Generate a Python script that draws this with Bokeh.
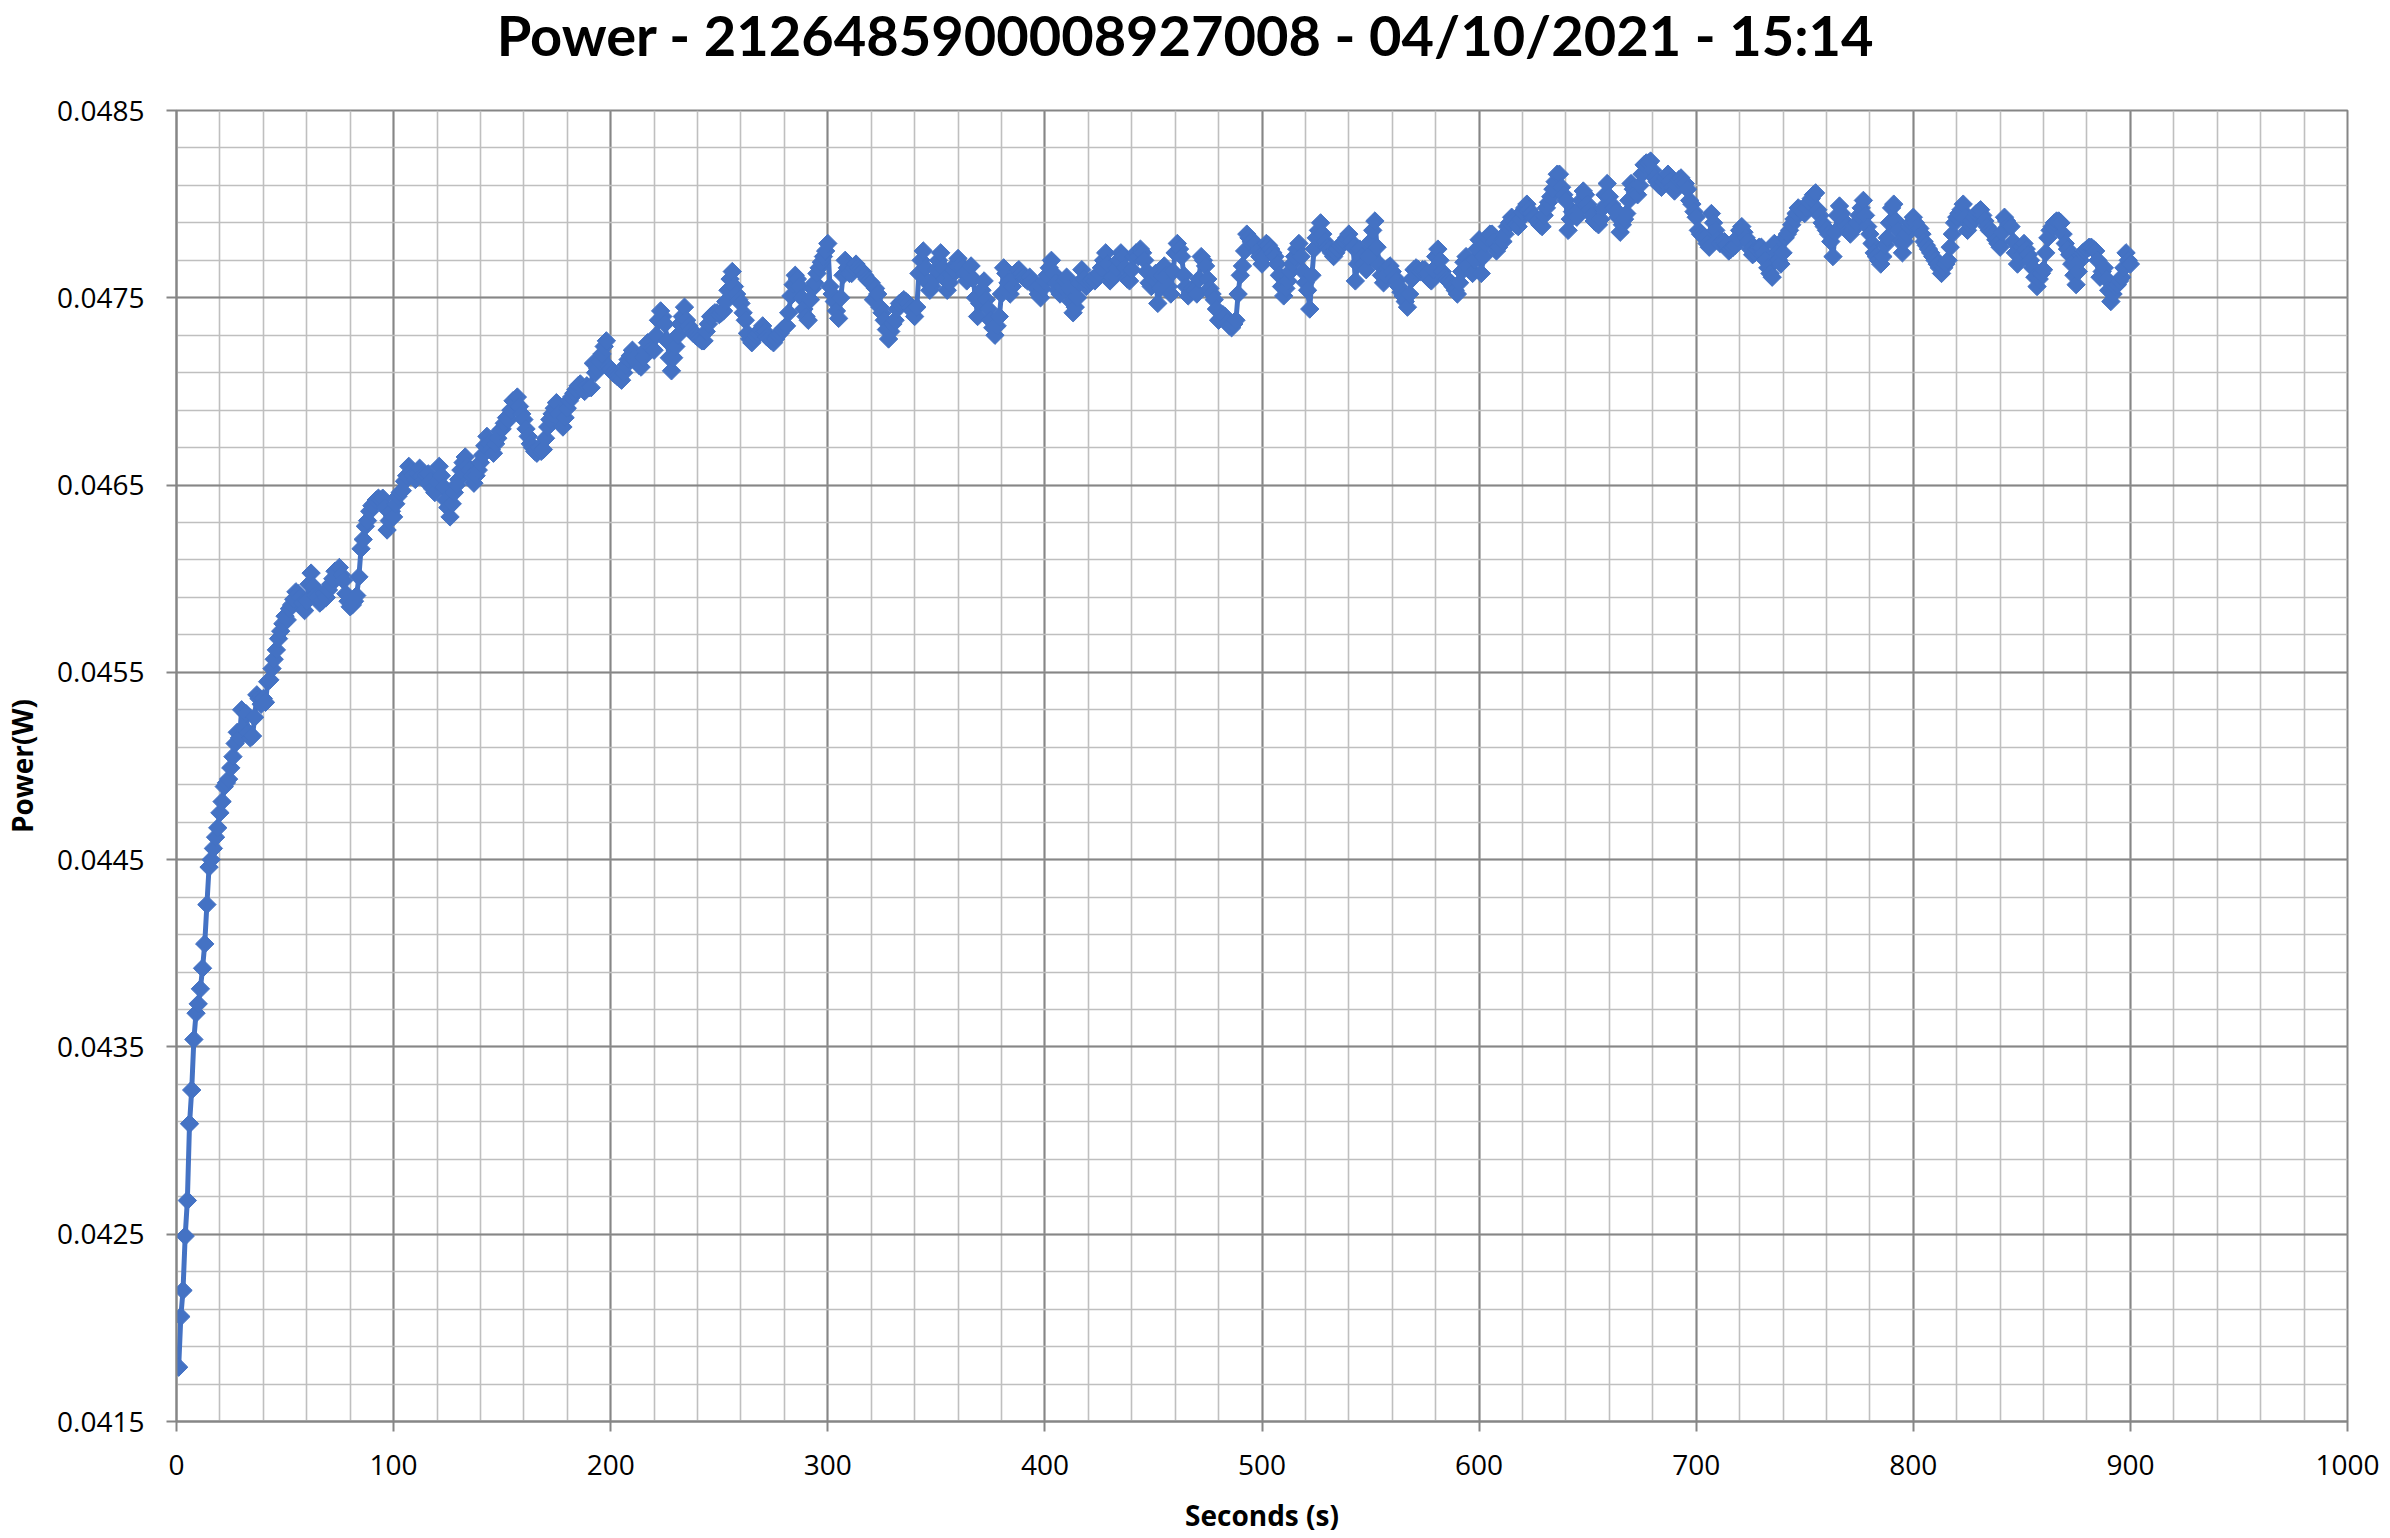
import math
from bokeh.plotting import figure
from bokeh.layouts import column
from bokeh.core.properties import value
from bokeh.models import FixedTicker, PrintfTickFormatter, Range1d, ColumnDataSource
from bokeh.embed import file_html
from bokeh.resources import INLINE

# ---------------- data ----------------
title_text = "Power - 2126485900008927008  - 04/10/2021 - 15:14"
x_label = "Seconds (s)"
y_label = "Power(W)"

x_ticks = [0, 100, 200, 300, 400, 500, 600, 700, 800, 900, 1000]
x_minor = list(range(0, 1001, 20))
y_ticks = [0.0415, 0.0425, 0.0435, 0.0445, 0.0455, 0.0465, 0.0475, 0.0485]
y_minor = [round(0.0415 + i * 0.0002, 4) for i in range(36)]

# power readings in mW, one per second (1 .. 900 s)
power_mw = [
    41.79, 42.06, 42.20, 42.49, 42.68, 43.09, 43.27, 43.54, 43.68, 43.73,
    43.81, 43.92, 44.05, 44.26, 44.46, 44.50, 44.56, 44.62, 44.67, 44.75,
    44.81, 44.89, 44.91, 44.93, 44.99, 45.05, 45.12, 45.18, 45.15, 45.30,
    45.20, 45.28, 45.18, 45.15, 45.16, 45.26, 45.38, 45.36, 45.33, 45.36,
    45.34, 45.45, 45.46, 45.52, 45.57, 45.62, 45.68, 45.72, 45.76, 45.80,
    45.78, 45.84, 45.86, 45.89, 45.93, 45.92, 45.90, 45.87, 45.83, 45.88,
    45.97, 46.03, 45.96, 45.91, 45.90, 45.87, 45.88, 45.92, 45.90, 45.94,
    45.97, 46.00, 46.04, 46.02, 46.06, 46.02, 45.99, 45.92, 45.88, 45.85,
    45.86, 45.88, 45.91, 46.01, 46.16, 46.21, 46.28, 46.31, 46.36, 46.39,
    46.40, 46.42, 46.43, 46.42, 46.43, 46.38, 46.26, 46.31, 46.36, 46.33,
    46.40, 46.44, 46.46, 46.47, 46.52, 46.55, 46.60, 46.57, 46.55, 46.53,
    46.56, 46.59, 46.55, 46.53, 46.55, 46.56, 46.52, 46.48, 46.46, 46.52,
    46.60, 46.55, 46.49, 46.42, 46.38, 46.33, 46.40, 46.46, 46.50, 46.53,
    46.58, 46.62, 46.65, 46.60, 46.58, 46.55, 46.51, 46.55, 46.58, 46.62,
    46.66, 46.71, 46.76, 46.72, 46.69, 46.67, 46.72, 46.75, 46.79, 46.80,
    46.83, 46.86, 46.85, 46.90, 46.95, 46.94, 46.97, 46.92, 46.88, 46.85,
    46.80, 46.76, 46.72, 46.70, 46.68, 46.67, 46.70, 46.68, 46.69, 46.75,
    46.81, 46.85, 46.88, 46.91, 46.94, 46.88, 46.84, 46.81, 46.86, 46.91,
    46.95, 46.97, 46.99, 47.01, 47.03, 47.04, 47.02, 47.00, 47.03, 47.02,
    47.02, 47.15, 47.10, 47.12, 47.16, 47.20, 47.24, 47.27, 47.13, 47.12,
    47.10, 47.09, 47.08, 47.07, 47.06, 47.10, 47.14, 47.17, 47.19, 47.22,
    47.18, 47.16, 47.14, 47.13, 47.18, 47.22, 47.26, 47.24, 47.23, 47.22,
    47.30, 47.38, 47.43, 47.40, 47.36, 47.27, 47.18, 47.11, 47.18, 47.24,
    47.30, 47.36, 47.40, 47.45, 47.38, 47.35, 47.33, 47.31, 47.30, 47.29,
    47.28, 47.27, 47.27, 47.32, 47.36, 47.40, 47.41, 47.42, 47.42, 47.41,
    47.42, 47.43, 47.48, 47.54, 47.60, 47.64, 47.56, 47.52, 47.49, 47.47,
    47.42, 47.38, 47.31, 47.28, 47.26, 47.28, 47.30, 47.31, 47.33, 47.35,
    47.32, 47.29, 47.28, 47.27, 47.26, 47.28, 47.30, 47.31, 47.33, 47.34,
    47.35, 47.42, 47.51, 47.57, 47.62, 47.60, 47.56, 47.50, 47.44, 47.40,
    47.38, 47.49, 47.55, 47.58, 47.63, 47.66, 47.69, 47.72, 47.75, 47.79,
    47.56, 47.52, 47.48, 47.43, 47.39, 47.50, 47.62, 47.70, 47.66, 47.63,
    47.63, 47.66, 47.68, 47.66, 47.65, 47.64, 47.62, 47.60, 47.59, 47.58,
    47.49, 47.55, 47.52, 47.45, 47.42, 47.38, 47.33, 47.28, 47.32, 47.36,
    47.38, 47.44, 47.47, 47.48, 47.49, 47.48, 47.47, 47.45, 47.43, 47.40,
    47.45, 47.63, 47.70, 47.75, 47.66, 47.58, 47.54, 47.56, 47.60, 47.65,
    47.70, 47.74, 47.66, 47.60, 47.54, 47.58, 47.62, 47.65, 47.68, 47.71,
    47.68, 47.66, 47.63, 47.59, 47.62, 47.67, 47.60, 47.50, 47.40, 47.47,
    47.54, 47.59, 47.49, 47.44, 47.38, 47.34, 47.30, 47.35, 47.40, 47.52,
    47.66, 47.63, 47.58, 47.52, 47.56, 47.61, 47.64, 47.65, 47.63, 47.61,
    47.60, 47.59, 47.61, 47.59, 47.57, 47.55, 47.52, 47.50, 47.55, 47.59,
    47.62, 47.66, 47.70, 47.63, 47.58, 47.54, 47.52, 47.56, 47.59, 47.61,
    47.55, 47.48, 47.42, 47.45, 47.50, 47.58, 47.65, 47.60, 47.56, 47.58,
    47.59, 47.60, 47.59, 47.61, 47.63, 47.66, 47.70, 47.74, 47.68, 47.59,
    47.61, 47.62, 47.66, 47.70, 47.74, 47.72, 47.66, 47.60, 47.59, 47.65,
    47.72, 47.74, 47.72, 47.76, 47.74, 47.70, 47.64, 47.58, 47.56, 47.60,
    47.63, 47.47, 47.55, 47.62, 47.67, 47.62, 47.56, 47.52, 47.64, 47.74,
    47.79, 47.76, 47.72, 47.62, 47.56, 47.51, 47.53, 47.55, 47.54, 47.52,
    47.60, 47.72, 47.70, 47.67, 47.60, 47.55, 47.52, 47.49, 47.44, 47.38,
    47.39, 47.41, 47.40, 47.37, 47.35, 47.34, 47.36, 47.38, 47.52, 47.62,
    47.67, 47.75, 47.84, 47.82, 47.80, 47.78, 47.79, 47.75, 47.72, 47.68,
    47.72, 47.79, 47.78, 47.76, 47.74, 47.72, 47.68, 47.62, 47.56, 47.51,
    47.55, 47.59, 47.64, 47.68, 47.72, 47.76, 47.79, 47.72, 47.64, 47.58,
    47.54, 47.44, 47.62, 47.76, 47.82, 47.86, 47.90, 47.84, 47.80, 47.77,
    47.76, 47.74, 47.72, 47.74, 47.76, 47.78, 47.79, 47.80, 47.82, 47.84,
    47.80, 47.77, 47.59, 47.68, 47.76, 47.72, 47.68, 47.65, 47.72, 47.80,
    47.86, 47.91, 47.77, 47.68, 47.62, 47.58, 47.62, 47.66, 47.67, 47.64,
    47.61, 47.59, 47.56, 47.53, 47.51, 47.48, 47.45, 47.52, 47.60, 47.65,
    47.66, 47.65, 47.64, 47.65, 47.65, 47.63, 47.60, 47.59, 47.65, 47.72,
    47.76, 47.70, 47.64, 47.61, 47.60, 47.59, 47.58, 47.56, 47.54, 47.52,
    47.58, 47.64, 47.69, 47.72, 47.68, 47.65, 47.63, 47.70, 47.76, 47.81,
    47.63, 47.72, 47.79, 47.82, 47.84, 47.84, 47.80, 47.75, 47.77, 47.80,
    47.80, 47.84, 47.88, 47.90, 47.93, 47.91, 47.89, 47.88, 47.92, 47.96,
    47.98, 48.00, 47.97, 47.95, 47.93, 47.93, 47.91, 47.89, 47.88, 47.94,
    47.98, 48.01, 48.04, 48.08, 48.12, 48.16, 48.16, 48.09, 48.05, 48.02,
    47.86, 47.92, 47.96, 47.95, 47.93, 47.97, 48.02, 48.07, 48.05, 48.00,
    47.97, 47.94, 47.91, 47.90, 47.89, 47.92, 47.98, 48.05, 48.11, 48.04,
    48.00, 47.98, 47.96, 47.93, 47.85, 47.89, 47.92, 47.95, 48.02, 48.11,
    48.08, 48.06, 48.05, 48.10, 48.16, 48.21, 48.22, 48.22, 48.23, 48.18,
    48.14, 48.12, 48.10, 48.09, 48.12, 48.14, 48.16, 48.12, 48.09, 48.07,
    48.10, 48.13, 48.14, 48.12, 48.11, 48.08, 48.02, 48.00, 47.96, 47.93,
    47.86, 47.84, 47.83, 47.82, 47.79, 47.77, 47.95, 47.90, 47.86, 47.81,
    47.79, 47.80, 47.80, 47.78, 47.75, 47.76, 47.77, 47.78, 47.82, 47.86,
    47.88, 47.85, 47.82, 47.80, 47.76, 47.73, 47.74, 47.76, 47.77, 47.77,
    47.74, 47.70, 47.66, 47.63, 47.61, 47.79, 47.74, 47.70, 47.68, 47.74,
    47.82, 47.84, 47.86, 47.89, 47.92, 47.95, 47.98, 47.97, 47.96, 47.95,
    47.98, 48.01, 48.03, 48.05, 48.06, 47.97, 47.94, 47.90, 47.88, 47.86,
    47.84, 47.80, 47.72, 47.85, 47.94, 47.99, 47.95, 47.91, 47.88, 47.86,
    47.84, 47.86, 47.88, 47.90, 47.94, 47.98, 48.02, 47.94, 47.88, 47.84,
    47.79, 47.74, 47.72, 47.70, 47.68, 47.72, 47.78, 47.82, 47.90, 47.98,
    48.00, 47.91, 47.86, 47.80, 47.74, 47.80, 47.84, 47.88, 47.90, 47.93,
    47.90, 47.88, 47.87, 47.84, 47.80, 47.78, 47.76, 47.74, 47.72, 47.70,
    47.68, 47.66, 47.63, 47.66, 47.68, 47.70, 47.77, 47.84, 47.90, 47.93,
    47.95, 47.97, 48.00, 47.93, 47.86, 47.89, 47.91, 47.93, 47.95, 47.96,
    47.97, 47.94, 47.91, 47.88, 47.86, 47.85, 47.84, 47.81, 47.79, 47.77,
    47.85, 47.93, 47.91, 47.89, 47.88, 47.80, 47.74, 47.68, 47.72, 47.77,
    47.79, 47.76, 47.73, 47.70, 47.66, 47.61, 47.56, 47.60, 47.63, 47.65,
    47.74, 47.82, 47.86, 47.88, 47.90, 47.91, 47.91, 47.90, 47.84, 47.79,
    47.76, 47.73, 47.68, 47.62, 47.57, 47.64, 47.70, 47.74, 47.75, 47.76,
    47.77, 47.77, 47.76, 47.75, 47.70, 47.61, 47.64, 47.66, 47.60, 47.54,
    47.48, 47.52, 47.56, 47.57, 47.59, 47.61, 47.66, 47.74, 47.70, 47.68,
]
seconds = list(range(1, len(power_mw) + 1))
power_w = [v / 1000.0 for v in power_mw]

# ---------------- layout / styling ----------------
BLUE = "#4472C4"
MAJOR = "#868686"
MINOR = "#BFBFBF"
FONT = "Open Sans"
TITLE_FONT = "Lato"
PAGE_W = 2390
BORDER_L, BORDER_R = 176, 43
HEAD_H = 80           # strip holding the chart title
MAIN_H = 1458

# --- title strip (its own small svg figure; frame aligned with the chart frame) ---
head = figure(
    width=PAGE_W, height=HEAD_H, output_backend="svg", toolbar_location=None,
    x_range=Range1d(BORDER_L, PAGE_W - BORDER_R), y_range=Range1d(0, HEAD_H),
    x_axis_location=None, y_axis_location=None,
    min_border_left=0, min_border_right=0, min_border_top=0, min_border_bottom=0,
    background_fill_color="white", border_fill_color="white",
)
head.outline_line_color = None
head.grid.visible = False
head.text(x=[1192], y=[46], text=[title_text],
          text_font=value(TITLE_FONT), text_font_style="bold", text_font_size="56px",
          text_color="black", text_align="center", text_baseline="alphabetic")

# --- main chart ---
p = figure(
    width=PAGE_W, height=MAIN_H,
    output_backend="svg", toolbar_location=None,
    x_range=Range1d(0, 1000), y_range=Range1d(0.0415, 0.0485),
    min_border_left=BORDER_L, min_border_right=BORDER_R,
    min_border_top=30, min_border_bottom=117,
    background_fill_color="white", border_fill_color="white",
)
p.outline_line_color = MAJOR
p.outline_line_width = 2

xt = FixedTicker(ticks=x_ticks, minor_ticks=x_minor)
yt = FixedTicker(ticks=y_ticks, minor_ticks=y_minor)
p.xaxis.ticker = xt
p.yaxis.ticker = yt
p.xgrid.ticker = xt
p.ygrid.ticker = yt
p.yaxis.formatter = PrintfTickFormatter(format="%.4f")

for g in (p.xgrid, p.ygrid):
    g.grid_line_color = MAJOR
    g.grid_line_width = 2
    g.minor_grid_line_color = MINOR
    g.minor_grid_line_width = 1.6

for ax in (p.xaxis, p.yaxis):
    ax.axis_line_color = MAJOR
    ax.axis_line_width = 2
    ax.major_tick_line_color = MAJOR
    ax.major_tick_line_width = 2
    ax.major_tick_out = 10
    ax.major_tick_in = 0
    ax.minor_tick_line_color = None
    ax.major_label_text_font = FONT
    ax.major_label_text_font_size = "28px"
    ax.major_label_text_color = "black"
    ax.axis_label_text_font = FONT
    ax.axis_label_text_font_style = "bold"
    ax.axis_label_text_font_size = "28px"
    ax.axis_label_text_color = "black"

p.xaxis.axis_label = x_label
p.yaxis.axis_label = y_label
p.xaxis.major_label_standoff = 23
p.xaxis.axis_label_standoff = 18
p.yaxis.major_label_standoff = 22
p.yaxis.axis_label_standoff = 13

src = ColumnDataSource(data=dict(x=seconds, y=power_w))
p.line("x", "y", source=src, line_color=BLUE, line_width=5)
p.scatter("x", "y", source=src, marker="square", angle=math.pi / 4, size=13,
          fill_color=BLUE, line_color=BLUE)

layout = column(head, p, spacing=0)
open("out.html", "w").write(file_html(layout, INLINE))
